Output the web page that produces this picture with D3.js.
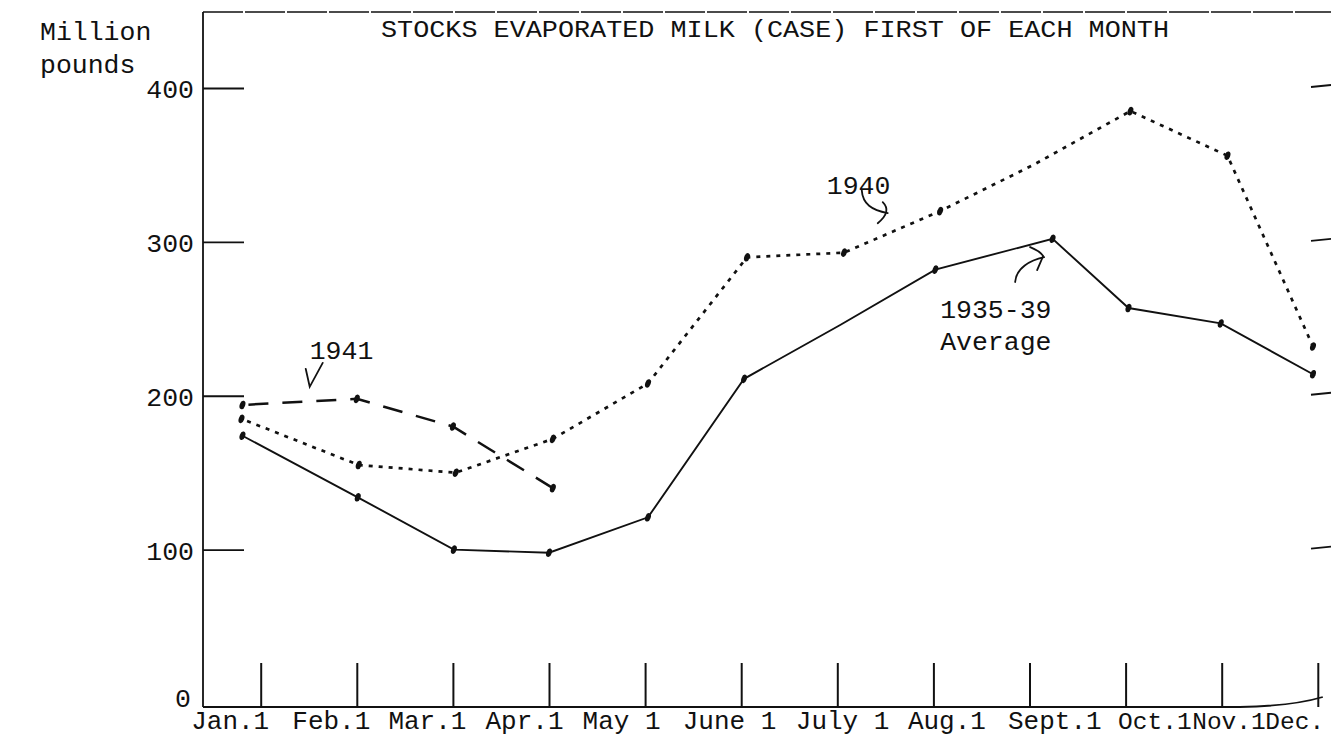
<!DOCTYPE html>
<html><head><meta charset="utf-8">
<script src="https://cdn.jsdelivr.net/npm/d3@7"></script>
<style>
html,body{margin:0;padding:0;background:#fff;}
svg{display:block;}
text{font-family:"Liberation Mono","DejaVu Sans Mono",monospace;fill:#111;}
</style></head><body>
<svg id="chart" width="1331" height="738"></svg>
<script>
// ---------- data ----------
const monthLabels = ["Jan.1","Feb.1","Mar.1","Apr.1","May 1","June 1","July 1","Aug.1","Sept.1","Oct.1","Nov.1","Dec."];
const yTicks = [0, 100, 200, 300, 400];
const titleText = "STOCKS EVAPORATED MILK (CASE) FIRST OF EACH MONTH";

// 1935-39 average (solid)
const avgMonths = [-0.19, 1.01, 2.01, 3.0, 4.03, 5.03, 6.03, 7.02, 8.24, 9.03, 9.99, 10.95];
const avgValues = [174, 134, 100, 98, 121, 211, 246, 282, 302, 257, 247, 214];
const avgDots   = [0,1,2,3,4,5,7,8,9,10,11];

// 1940 (dotted)
const y1940Months = [-0.2, 1.02, 2.03, 3.04, 4.03, 5.06, 6.07, 7.07, 8.04, 9.05, 10.06, 10.95];
const y1940Values = [185, 155, 150, 172, 208, 290, 293, 320, 350, 385, 356, 232];
const y1940Dots   = [0,1,2,3,4,5,6,7,9,10,11];

// 1941 (dashed)
const y1941Months = [-0.19, 1.0, 2.0, 3.04];
const y1941Values = [194, 198, 180, 140];
const y1941Dots   = [0,1,2,3];

// ---------- layout ----------
const W = 1331, H = 738;
const axisX = 203, topY = 12;
const svg = d3.select("#chart");
const ink = "#111";
const FS = 26.5;

const x = d3.scaleLinear().domain([0, 11]).range([260.7, 1317.8]);
const y = d3.scaleLinear().domain([0, 400]).range([703.5, 88]);
const baseY = y(0) + 3.5;

// top border (typewriter line)
svg.append("line").attr("x1", axisX).attr("x2", W).attr("y1", topY).attr("y2", topY)
  .attr("stroke", ink).attr("stroke-width", 1.6).attr("stroke-dasharray", "40,2");

// left axis line
svg.append("line").attr("x1", axisX).attr("x2", axisX).attr("y1", topY).attr("y2", baseY)
  .attr("stroke", ink).attr("stroke-width", 1.8);

// baseline with slight upward curl at the right
const bp = d3.path();
bp.moveTo(axisX, baseY);
bp.lineTo(x(10) + 18, baseY);
bp.quadraticCurveTo(x(11) - 25, baseY - 1, x(11) + 5, baseY - 10);
svg.append("path").attr("d", bp.toString()).attr("fill", "none").attr("stroke", ink).attr("stroke-width", 1.8);

// Y axis
const yAxis = d3.axisLeft(y).tickValues(yTicks).tickSizeInner(-41).tickSizeOuter(0)
  .tickPadding(9).tickFormat(d3.format("d"));
const gy = svg.append("g").attr("transform", `translate(${axisX},0)`).call(yAxis);
gy.select(".domain").remove();
gy.selectAll(".tick line").attr("stroke", ink).attr("stroke-width", 1.8)
  .filter(d => d === 0).remove();
gy.selectAll(".tick text").style("font-size", FS + "px").style("font-family", null).attr("fill", ink)
  .attr("dy", d => d === 0 ? "0.1em" : "0.36em")
  .attr("x", d => d === 0 ? -12 : -9);

// right side short ticks
svg.append("g").selectAll("line").data(yTicks.filter(d => d > 0)).join("line")
  .attr("x1", W - 20).attr("x2", W).attr("y1", d => y(d) - 1).attr("y2", d => y(d) - 3)
  .attr("stroke", ink).attr("stroke-width", 1.8);

// X axis (ticks pointing up, typed labels below)
const labelDx = [-70, -65, -65, -64, -63, -59, -42, -26, -22, -8, -30, -53];
const xAxis = d3.axisBottom(x).tickValues(d3.range(12)).tickSizeInner(-44).tickSizeOuter(0)
  .tickFormat(i => monthLabels[i]);
const gx = svg.append("g").attr("transform", `translate(0,${baseY})`).call(xAxis);
gx.select(".domain").remove();
gx.selectAll(".tick line").attr("stroke", ink).attr("stroke-width", 2);
gx.selectAll(".tick text").style("font-family", null)
  .style("font-size", (d, i) => (i >= 9 ? 24.5 : 26) + "px")
  .attr("fill", ink).attr("text-anchor", "start")
  .attr("y", 22).attr("dy", 0).attr("dx", (d, i) => labelDx[i]);

// ---------- series ----------
function series(months, values) { return months.map((m, i) => ({ m, v: values[i] })); }
const line = d3.line().x(d => x(d.m)).y(d => y(d.v));

const seriesDefs = [
  { data: series(avgMonths, avgValues), dots: avgDots, dash: null, width: 1.9 },
  { data: series(y1940Months, y1940Values), dots: y1940Dots, dash: "4,6", width: 2.7 },
  { data: series(y1941Months, y1941Values), dots: y1941Dots, dash: "20,14", width: 2.5 }
];

seriesDefs.forEach(s => {
  svg.append("path").datum(s.data).attr("d", line)
    .attr("fill", "none").attr("stroke", ink).attr("stroke-width", s.width)
    .attr("stroke-dasharray", s.dash).attr("stroke-dashoffset", s.dash ? -6 : null);
  svg.append("g").selectAll("ellipse").data(s.dots.map(i => s.data[i])).join("ellipse")
    .attr("cx", d => x(d.m)).attr("cy", d => y(d.v)).attr("rx", 2.7).attr("ry", 4.4)
    .attr("transform", d => `rotate(20,${x(d.m)},${y(d.v)})`)
    .attr("fill", ink);
});

// ---------- texts ----------
svg.append("text").attr("x", 40).attr("y", 40).style("font-size", FS + "px").text("Million");
svg.append("text").attr("x", 40).attr("y", 73).style("font-size", FS + "px").text("pounds");
svg.append("text").attr("x", 381).attr("y", 37)
  .attr("textLength", 788).attr("lengthAdjust", "spacingAndGlyphs")
  .style("font-size", "23px").text(titleText);

// annotations, anchored in data coordinates
const notes = [
  { lines: ["1941"], m: 0.51, v: 224,
    arrow: ["M-4,10 L0,28 L13,4"] },
  { lines: ["1940"], m: 5.89, v: 331,
    arrow: ["M35,-4 C36,10 45,16 61,19", "M56,8 C62,14 61,21 51,29"] },
  { lines: ["1935-39", "Average"], m: 7.07, v: 250.5,
    arrow: ["M75,-36 C76,-50 90,-58 104,-61", "M90,-71 Q100,-67 103,-62 L97,-48"] }
];
notes.forEach(n => {
  const px = x(n.m), py = y(n.v);
  const g = svg.append("g").attr("transform", `translate(${px},${py})`);
  n.lines.forEach((t, i) => g.append("text").attr("x", 0).attr("y", i * 32)
    .style("font-size", FS + "px").text(t));
  n.arrow.forEach(d => g.append("path").attr("d", d).attr("fill", "none")
    .attr("stroke", ink).attr("stroke-width", 1.8).attr("stroke-linecap", "round"));
});
</script>
</body></html>
